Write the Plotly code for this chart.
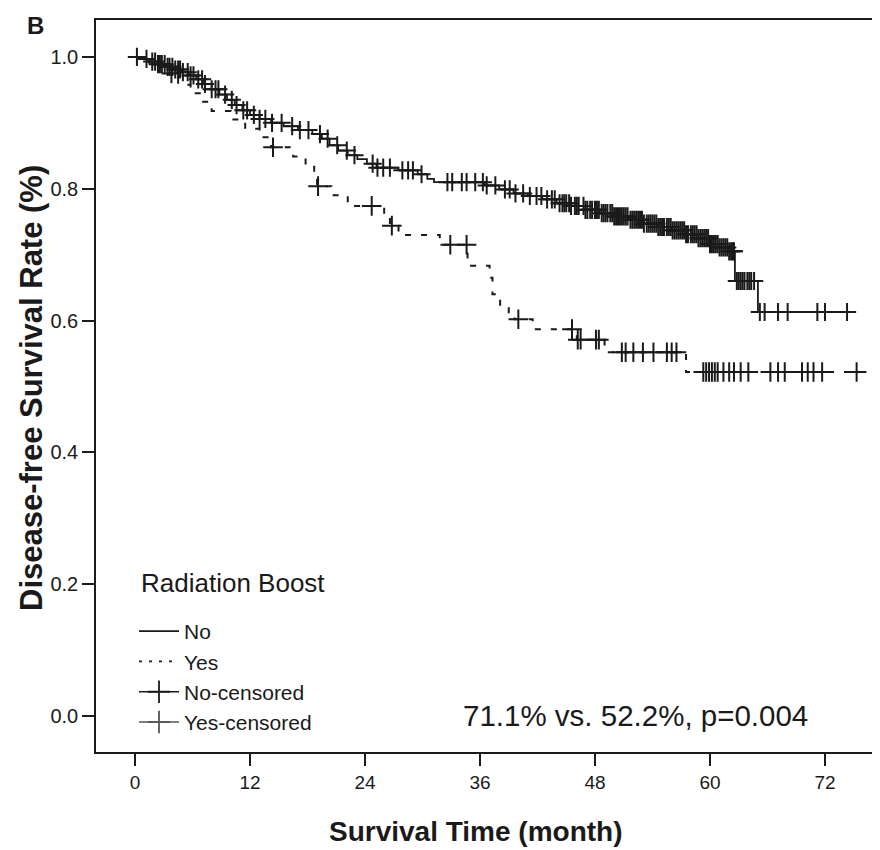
import numpy as np
import plotly.graph_objects as go

# ---------------- data ----------------
x_ticks = [0, 12, 24, 36, 48, 60, 72]
y_ticks = [0.0, 0.2, 0.4, 0.6, 0.8, 1.0]
y_tick_labels = ["0.0", "0.2", "0.4", "0.6", "0.8", "1.0"]

# Radiation boost = No : event times (months) and survival after each step
no_time = [0.8, 1.6, 2.4, 3.2, 4.0, 4.8, 5.6, 6.4, 7.2, 8.0, 8.8, 9.6, 10.4, 11.2,
           12.0, 13.0, 14.2, 15.5, 17.0, 18.5, 19.5, 20.3, 21.2, 22.2, 23.2, 24.2,
           25.2, 27.5, 29.5, 30.5, 31.2, 36.5, 38.0, 39.5, 41.0, 42.5, 44.0, 45.5,
           47.0, 48.5, 50.0, 51.5, 53.0, 54.5, 56.0, 57.5, 58.8, 60.0, 61.0, 62.0,
           62.6, 65.0]
no_surv = [0.997, 0.993, 0.989, 0.985, 0.981, 0.977, 0.972, 0.966, 0.959, 0.951,
           0.943, 0.935, 0.927, 0.919, 0.912, 0.906, 0.900, 0.895, 0.889, 0.883,
           0.876, 0.866, 0.858, 0.851, 0.845, 0.838, 0.832, 0.828, 0.822, 0.815,
           0.810, 0.805, 0.799, 0.793, 0.789, 0.784, 0.778, 0.774, 0.768, 0.763,
           0.758, 0.753, 0.747, 0.742, 0.737, 0.731, 0.725, 0.716, 0.711, 0.705,
           0.660, 0.613]
no_end = 74.3
no_censor = [0.2, 1.2, 1.8, 2.1, 2.4, 2.6, 2.8, 3.1, 3.4, 3.6, 3.9, 4.2, 4.5, 4.7,
             5.0, 5.5, 5.8, 6.1, 6.6, 7.0, 7.3, 8.0, 8.4, 8.7, 9.4, 10.1, 10.6,
             11.3, 11.7, 12.4, 13.0, 13.6, 14.3, 15.3, 16.4, 17.2, 18.1, 19.3, 20.1,
             21.1, 22.1, 22.9, 24.8, 25.3, 25.9, 26.6, 27.9, 28.5, 29.0, 29.9, 32.6,
             33.1, 34.1, 34.6, 35.5, 36.3, 36.7, 37.6, 38.6, 39.1, 39.7, 40.5, 41.2,
             41.9, 42.4, 43.0, 43.5, 43.8, 44.3, 44.6, 44.8, 45.0, 45.3, 45.5, 45.9,
             46.1, 46.3, 46.8, 47.0, 47.2, 47.5, 47.7, 48.0, 48.2, 48.4, 48.7, 48.9,
             49.1, 49.3, 49.6, 49.8, 50.0, 50.2, 50.4, 50.6, 50.8, 51.0, 51.2, 51.4,
             51.7, 51.9, 52.1, 52.3, 52.5, 52.7, 52.9, 53.1, 53.4, 53.6, 53.8, 54.0,
             54.2, 54.4, 54.6, 54.8, 55.0, 55.2, 55.5, 55.7, 55.9, 56.1, 56.3, 56.5,
             56.7, 56.9, 57.1, 57.3, 57.5, 57.7, 58.0, 58.2, 58.4, 58.6, 58.8, 59.0,
             59.2, 59.4, 59.6, 59.8, 60.0, 60.2, 60.4, 60.6, 60.8, 61.0, 61.2, 61.4,
             61.6, 61.8, 62.0, 62.2, 62.4, 62.5, 62.8, 63.0, 63.2, 63.4, 63.6, 63.9,
             64.1, 64.3, 64.6, 65.2, 65.7, 67.1, 68.1, 71.2, 72.0, 74.3]

# Radiation boost = Yes
yes_time = [1.5, 3.0, 4.5, 5.8, 7.0, 8.0, 10.0, 11.5, 13.0, 14.2, 16.5, 17.8, 18.7,
            19.0, 20.5, 22.2, 26.0, 26.6, 27.5, 31.8, 34.7, 37.0, 37.3, 38.1, 39.0,
            39.6, 41.5, 46.1, 49.0, 57.5]
yes_surv = [0.990, 0.975, 0.958, 0.945, 0.932, 0.918, 0.905, 0.891, 0.878, 0.863,
            0.849, 0.836, 0.820, 0.804, 0.790, 0.774, 0.759, 0.744, 0.730, 0.715,
            0.683, 0.665, 0.640, 0.622, 0.611, 0.602, 0.587, 0.571, 0.552, 0.522]
yes_end = 75.3
yes_censor = [3.8, 14.4, 19.1, 24.7, 26.8, 32.9, 34.6, 40.0, 45.6, 46.2, 46.5, 48.1,
              48.4, 50.8, 51.2, 52.0, 53.0, 54.1, 55.5, 56.0, 56.5, 59.3, 59.6, 59.9,
              60.2, 60.5, 60.8, 61.4, 62.0, 62.5, 63.2, 64.0, 66.3, 67.1, 67.8, 69.6,
              70.2, 70.8, 71.7, 75.3]

stat_text = "71.1% vs. 52.2%, p=0.004"
legend_title = "Radiation Boost"
x_title = "Survival Time (month)"
y_title = "Disease-free Survival Rate (%)"
panel_label = "B"


# ---------------- helpers ----------------
def step_xy(times, surv, end):
    xs = [0.0] + list(times) + [end]
    ys = [1.0] + list(surv) + [surv[-1]]
    return xs, ys


def surv_at(times, surv, t):
    t_arr = np.asarray(times)
    s_arr = np.asarray([1.0] + list(surv))
    idx = np.searchsorted(t_arr, np.asarray(t), side="right")
    return s_arr[idx]


FONT = "Liberation Sans, Arial, sans-serif"
INK = "#1a1a1a"

fig = go.Figure()

nx, ny = step_xy(no_time, no_surv, no_end)
yx, yy = step_xy(yes_time, yes_surv, yes_end)

fig.add_trace(go.Scatter(x=nx, y=ny, mode="lines", line=dict(color=INK, width=1.8, shape="hv"),
                         showlegend=False, hoverinfo="skip"))
fig.add_trace(go.Scatter(x=yx, y=yy, mode="lines",
                         line=dict(color=INK, width=2.0, shape="hv", dash="6px,10px"),
                         showlegend=False, hoverinfo="skip"))
fig.add_trace(go.Scatter(x=no_censor, y=surv_at(no_time, no_surv, no_censor), mode="markers",
                         marker=dict(symbol="cross-thin", size=13, line=dict(color=INK, width=2.0)),
                         showlegend=False, hoverinfo="skip"))
fig.add_trace(go.Scatter(x=yes_censor, y=surv_at(yes_time, yes_surv, yes_censor), mode="markers",
                         marker=dict(symbol="cross-thin", size=14, line=dict(color=INK, width=2.0)),
                         showlegend=False, hoverinfo="skip"))

# legend-only entries
fig.add_trace(go.Scatter(x=[None], y=[None], mode="lines", name="No",
                         line=dict(color=INK, width=1.6)))
fig.add_trace(go.Scatter(x=[None], y=[None], mode="lines", name="Yes",
                         line=dict(color=INK, width=1.8, dash="3px,7px")))
fig.add_trace(go.Scatter(x=[None], y=[None], mode="lines+markers", name="No-censored",
                         line=dict(color=INK, width=1.6),
                         marker=dict(symbol="cross-thin", size=16, line=dict(color=INK, width=1.8))))
fig.add_trace(go.Scatter(x=[None], y=[None], mode="lines+markers", name="Yes-censored",
                         line=dict(color="#555555", width=1.6),
                         marker=dict(symbol="cross-thin", size=16, line=dict(color="#555555", width=1.8))))

# The page body adds an 8px offset; screen coordinates below are of the final picture.
OFF = 8
W, H = 880 - OFF, 850 - OFF
ML, MR, MT, MB = 96 - OFF, 2, 20 - OFF, 98
PW, PH = W - ML - MR, H - MT - MB


def px(xs):
    return (xs - OFF - ML) / PW


def py(ys):
    return (H - MB - (ys - OFF)) / PH


fig.update_layout(
    width=W, height=H,
    margin=dict(l=ML, r=MR, t=MT, b=MB, autoexpand=False),
    paper_bgcolor="white", plot_bgcolor="white",
    font=dict(family=FONT, color=INK, size=20),
    legend=dict(
        x=px(134), y=py(611), xanchor="left", yanchor="top",
        bgcolor="rgba(0,0,0,0)",
        font=dict(size=21, family=FONT, color=INK),
        itemwidth=40, tracegroupgap=0,
    ),
    annotations=[
        dict(text=f"<b>{panel_label}</b>", xref="paper", yref="paper", x=px(25), y=py(10),
             xanchor="left", yanchor="top", showarrow=False,
             font=dict(size=24, family=FONT, color=INK)),
        dict(text=legend_title, xref="paper", yref="paper", x=px(139), y=py(583),
             xanchor="left", yanchor="middle", showarrow=False,
             font=dict(size=26, family=FONT, color=INK)),
        dict(text=stat_text, xref="x", yref="y", x=34.0, y=0.0, xanchor="left",
             yanchor="middle", showarrow=False,
             font=dict(size=29.5, family=FONT, color=INK)),
        dict(text=f"<b>{x_title}</b>", xref="paper", yref="paper", x=px(476), y=py(832),
             xanchor="center", yanchor="middle", showarrow=False,
             font=dict(size=28, family=FONT, color=INK)),
        dict(text=f"<b>{y_title}</b>", xref="paper", yref="paper", x=px(31), y=py(388),
             xanchor="center", yanchor="middle", showarrow=False, textangle=-90,
             font=dict(size=31, family=FONT, color=INK)),
    ],
)

fig.update_xaxes(
    range=[-4.07, 77.53], tickmode="array", tickvals=x_ticks,
    ticks="outside", ticklen=12, tickwidth=1.5, tickcolor=INK,
    showline=True, linecolor=INK, linewidth=1.6, mirror=True,
    showgrid=False, zeroline=False, automargin=False,
    tickfont=dict(size=19, family=FONT, color=INK),
)
fig.update_yaxes(
    range=[-0.0547, 1.0561], tickmode="array", tickvals=y_ticks, ticktext=y_tick_labels,
    ticks="outside", ticklen=12, tickwidth=1.5, tickcolor=INK,
    showline=True, linecolor=INK, linewidth=1.6, mirror=True,
    showgrid=False, zeroline=False, automargin=False,
    tickfont=dict(size=20, family=FONT, color=INK),
)

fig.write_html("out.html")
